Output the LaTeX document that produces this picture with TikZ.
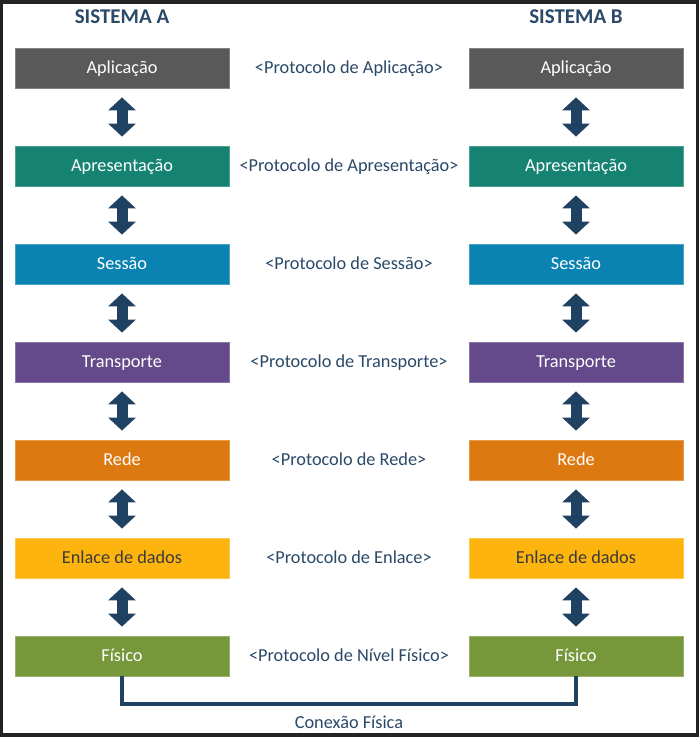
\documentclass[tikz,border=0pt]{standalone}
\usepackage{fontspec}
\setmainfont{Carlito}
\usetikzlibrary{arrows.meta}

\definecolor{frameC}{HTML}{232323}
\definecolor{navyC}{HTML}{1F4263}
\definecolor{titleC}{HTML}{2C4967}
\definecolor{protoC}{HTML}{2A4968}
\definecolor{cAplic}{HTML}{595959}
\definecolor{cApres}{HTML}{158272}
\definecolor{cSess}{HTML}{0B83B2}
\definecolor{cTransp}{HTML}{644A8A}
\definecolor{cRede}{HTML}{DC7A11}
\definecolor{cEnlace}{HTML}{FDB40F}
\definecolor{cFis}{HTML}{76983A}
\definecolor{darkText}{HTML}{3A3A3A}

\tikzset{
  layer/.style={minimum width=214pt, minimum height=40pt, inner sep=0pt,
    line width=0.8pt, font=\fontsize{18.3}{20}\selectfont,
    text height=13pt, text depth=2.5pt},
  proto/.style={text=protoC, font=\fontsize{18.3}{20}\selectfont,
    text height=13pt, text depth=2.5pt, inner sep=0pt},
  title/.style={text=titleC, font=\fontsize{21}{24}\selectfont\bfseries, inner sep=0pt},
  updown/.style={draw=navyC, line width=11pt,
    {Triangle[width=27pt,length=13pt]}-{Triangle[width=27pt,length=13pt]},
    shorten <=9pt, shorten >=9pt},
  link/.style={draw=navyC, line width=4.5pt},
}

\begin{document}
\begin{tikzpicture}[x=1pt,y=-1pt]
  % frame
  \fill[frameC] (0,0) rectangle (699,737);
  \fill[white] (3,4) rectangle (696,733);

  % titles
  \node[title] (tA) at (122,17) {SISTEMA A};
  \node[title] (tB) at (576,17) {SISTEMA B};

  % layer stacks with the peer protocol between them
  \foreach \i/\name/\col/\txt/\proto in {
      0/Aplicação/cAplic/white/<Protocolo de Aplicação>,
      1/Apresentação/cApres/white/<Protocolo de Apresentação>,
      2/Sessão/cSess/white/<Protocolo de Sessão>,
      3/Transporte/cTransp/white/<Protocolo de Transporte>,
      4/Rede/cRede/white/<Protocolo de Rede>,
      5/Enlace de dados/cEnlace/darkText/<Protocolo de Enlace>,
      6/Físico/cFis/white/<Protocolo de Nível Físico>} {
    \pgfmathsetmacro{\yy}{68+98*\i}
    \node[layer, fill=\col, draw=\col!75!white, text=\txt] (A\i) at (122,\yy) {\name};
    \node[layer, fill=\col, draw=\col!75!white, text=\txt] (B\i) at (576,\yy) {\name};
    \node[proto] (P\i) at (349,\yy) {\proto};
  }

  % double arrows between adjacent layers
  \foreach \i [evaluate=\i as \j using int(\i+1)] in {0,...,5} {
    \draw[updown] (A\i.south) -- (A\j.north);
    \draw[updown] (B\i.south) -- (B\j.north);
  }

  % physical link
  \coordinate (L) at (122,704);
  \draw[link] (A6.south) -- (L) -| (B6.south);
  \node[proto] (con) at (349,723) {Conexão Física};
\end{tikzpicture}
\end{document}
